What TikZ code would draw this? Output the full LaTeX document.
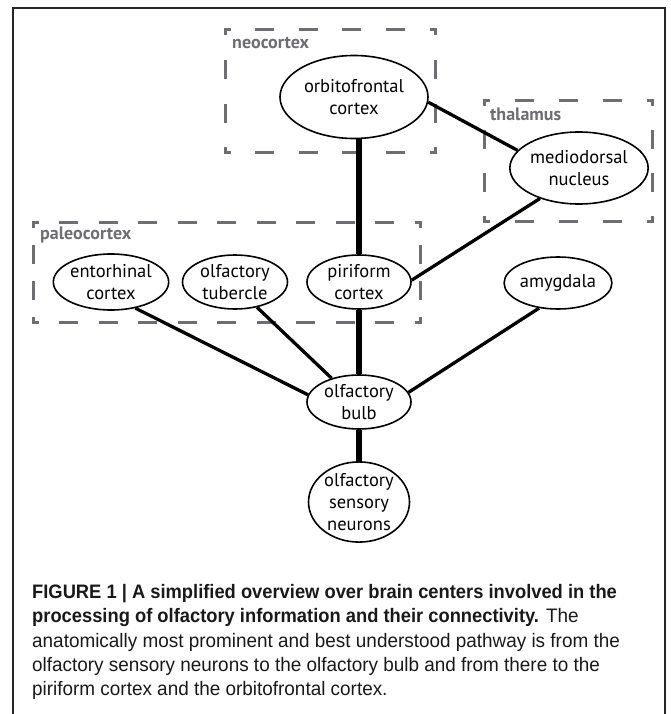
\documentclass[tikz,border=0pt]{standalone}
\usepackage{fontspec}
\setmainfont{PT Sans}
\newfontfamily\captionfont[FakeStretch=0.97,BoldFeatures={FakeStretch=0.94}]{Liberation Sans}
\usetikzlibrary{shapes.geometric}
\definecolor{regiongray}{HTML}{6D6E71}

% dashed region frame with a dash in every corner: x1 y1 x2 y2
\newcommand{\regionbox}[4]{%
  \pgfmathsetmacro{\rbnw}{round((#3-#1-33)/41)}%
  \pgfmathsetmacro{\rbgw}{(#3-#1-8-16*\rbnw)/(\rbnw+1)}%
  \pgfmathsetmacro{\rbnh}{round((#4-#2-33)/41)}%
  \pgfmathsetmacro{\rbgh}{(#4-#2-8-16*\rbnh)/(\rbnh+1)}%
  \draw[regionline, dash pattern=on 16pt off \rbgw pt, dash phase=12pt] (#1,#2) -- (#3,#2) (#1,#4) -- (#3,#4);
  \draw[regionline, dash pattern=on 16pt off \rbgh pt, dash phase=12pt] (#1,#2) -- (#1,#4) (#3,#2) -- (#3,#4);
}

\begin{document}
\begin{tikzpicture}[x=1pt,y=-1pt]
    \tikzstyle{every node}=[font=\fontsize{18.5}{21.7}\selectfont]
    \tikzstyle{area}=[ellipse, draw, line width=1.6pt, inner sep=0pt, align=center]
    \tikzstyle{region}=[text=regiongray, font=\bfseries\fontsize{18}{20}\selectfont, anchor=west, inner sep=0pt]
    \tikzstyle{regionline}=[regiongray, line width=3pt, line cap=rect]
    \tikzstyle{link}=[line width=3.3pt]
    \tikzstyle{mainlink}=[line width=6pt]

    \useasboundingbox (0,0) rectangle (671,714);
    \draw[line width=1.2pt, black!85] (13,714) -- (13,8) -- (665,8) -- (665,714);

    % regions
    \regionbox{225}{30}{435}{153}
    \regionbox{484}{101}{652}{221}
    \regionbox{33}{222}{420}{322}
    \node[region] (neo) at (232,43) {neocortex};
    \node[region] (thal) at (490,114) {thalamus};
    \node[region] (paleo) at (40,235) {paleocortex};

    % brain centers
    \node[area, minimum width=148pt, minimum height=83pt] (ofc) at (354,97) {orbitofrontal\\cortex};
    \node[area, minimum width=128pt, minimum height=72pt] (md) at (579,168) {mediodorsal\\nucleus};
    \node[area, minimum width=107pt, minimum height=56pt] (ent) at (111,282) {entorhinal\\cortex};
    \node[area, minimum width=105pt, minimum height=54pt] (tub) at (235,282) {olfactory\\tubercle};
    \node[area, minimum width=104pt, minimum height=54pt] (pir) at (359,282) {piriform\\cortex};
    \node[area, minimum width=104pt, minimum height=52pt] (amy) at (558,283) {amygdala};
    \node[area, minimum width=104pt, minimum height=54pt] (ob) at (359,402) {olfactory\\bulb};
    \node[area, minimum width=101pt, minimum height=77pt] (osn) at (359,502) {olfactory\\sensory\\neurons};

    % connections
    \draw[mainlink] (pir.north) -- (pir.north |- ofc.south);
    \draw[mainlink] (pir) -- (ob);
    \draw[mainlink] (ob) -- (osn);
    \draw[link] (ofc.-4) -- (md.164);
    \draw[link] (md.218) -- (pir.2);
    \draw[link] (ent.-47) -- (ob.172);
    \draw[link] (tub.-49) -- (ob.139);
    \draw[link] (amy.233) -- (ob.11);

    \node[anchor=north west, align=left, inner sep=0pt, text=black!90,
          font=\captionfont\fontsize{19.5}{24.4}\selectfont] (caption) at (32,584)
        {\textbf{FIGURE 1 | A simplified overview over brain centers involved in the}\\
         \textbf{processing of olfactory information and their connectivity.} The\\
         anatomically most prominent and best understood pathway is from the\\
         olfactory sensory neurons to the olfactory bulb and from there to the\\
         piriform cortex and the orbitofrontal cortex.};
\end{tikzpicture}
\end{document}
